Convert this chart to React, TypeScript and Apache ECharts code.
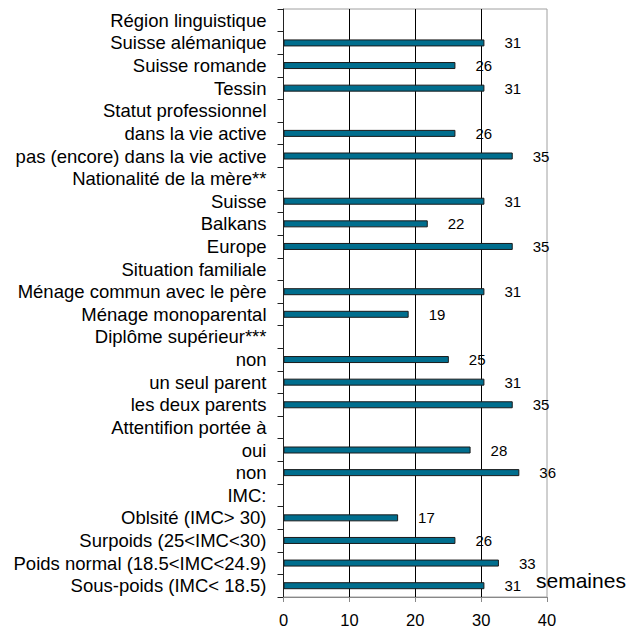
import React, { useEffect, useRef } from "react";
import * as echarts from "echarts";

const categories: string[] = [
  "Région linguistique",
  "Suisse alémanique",
  "Suisse romande",
  "Tessin",
  "Statut professionnel",
  "dans la vie active",
  "pas (encore) dans la vie active",
  "Nationalité de la mère**",
  "Suisse",
  "Balkans",
  "Europe",
  "Situation familiale",
  "Ménage commun avec le père",
  "Ménage monoparental",
  "Diplôme supérieur***",
  "non",
  "un seul parent",
  "les deux parents",
  "Attentifion portée à",
  "oui",
  "non",
  "IMC:",
  "Oblsité (IMC> 30)",
  "Surpoids (25<IMC<30)",
  "Poids normal (18.5<IMC<24.9)",
  "Sous-poids (IMC< 18.5)",
];

// bar lengths (weeks) as drawn; null = heading row
const weeks: (number | null)[] = [
  null, 30.5, 26.1, 30.5,
  null, 26.1, 34.8,
  null, 30.5, 21.9, 34.8,
  null, 30.5, 19.0,
  null, 25.1, 30.5, 34.8,
  null, 28.4, 35.8,
  null, 17.4, 26.1, 32.7, 30.5,
];

// labels shown next to bars
const labels: (number | null)[] = [
  null, 31, 26, 31,
  null, 26, 35,
  null, 31, 22, 35,
  null, 31, 19,
  null, 25, 31, 35,
  null, 28, 36,
  null, 17, 26, 33, 31,
];

const xTicks = [0, 10, 20, 30, 40];
const unitLabel = "semaines";

export default function App() {
  const ref = useRef<HTMLDivElement>(null);
  useEffect(() => {
    document.body.style.margin = "0";
    if (!ref.current) return;
    const chart = echarts.init(ref.current, null, { renderer: "svg" });
    const font = "'Liberation Sans', Arial, sans-serif";
    chart.setOption({
      animation: false,
      backgroundColor: "#ffffff",
      grid: {
        left: 283.5,
        right: 88,
        top: 9,
        bottom: 31,
        show: true,
        borderColor: "#a0a0a0",
        borderWidth: 1,
        outerBoundsMode: "none",
      },
      xAxis: {
        type: "value",
        min: xTicks[0],
        max: xTicks[xTicks.length - 1],
        interval: 10,
        axisLine: { show: true, lineStyle: { color: "#888888", width: 1 } },
        axisTick: { show: true, length: 5, lineStyle: { color: "#888888" } },
        axisLabel: { fontSize: 16.5, color: "#000", fontFamily: font, margin: 14 },
        splitLine: {
          show: true,
          showMinLine: false,
          showMaxLine: false,
          lineStyle: { color: "#000", width: 1 },
        },
      },
      yAxis: {
        type: "category",
        inverse: true,
        data: categories,
        axisLine: { show: true, lineStyle: { color: "#222", width: 1 } },
        axisTick: { show: true, length: 6, lineStyle: { color: "#222" } },
        axisLabel: {
          interval: 0,
          fontSize: 18.5,
          color: "#000",
          fontFamily: font,
          margin: 17,
          padding: [3, 0, 0, 0],
          hideOverlap: false,
        },
        splitLine: { show: false },
      },
      series: [
        {
          type: "bar",
          data: weeks,
          barWidth: 7,
          itemStyle: { color: "#006e8e", borderColor: "#1a1a1a", borderWidth: 1 },
          label: {
            show: true,
            position: "right",
            distance: 20,
            fontSize: 15,
            color: "#000",
            fontFamily: font,
            formatter: (p: any) => {
              const v = labels[p.dataIndex];
              return v == null ? "" : String(v);
            },
          },
        },
      ],
      graphic: [
        {
          type: "text",
          left: 536,
          top: 570,
          style: {
            text: unitLabel,
            fontSize: 21,
            fill: "#000",
            fontFamily: font,
          },
        },
      ],
    });
    return () => chart.dispose();
  }, []);
  return <div ref={ref} style={{ width: 635, height: 628 }} />;
}
